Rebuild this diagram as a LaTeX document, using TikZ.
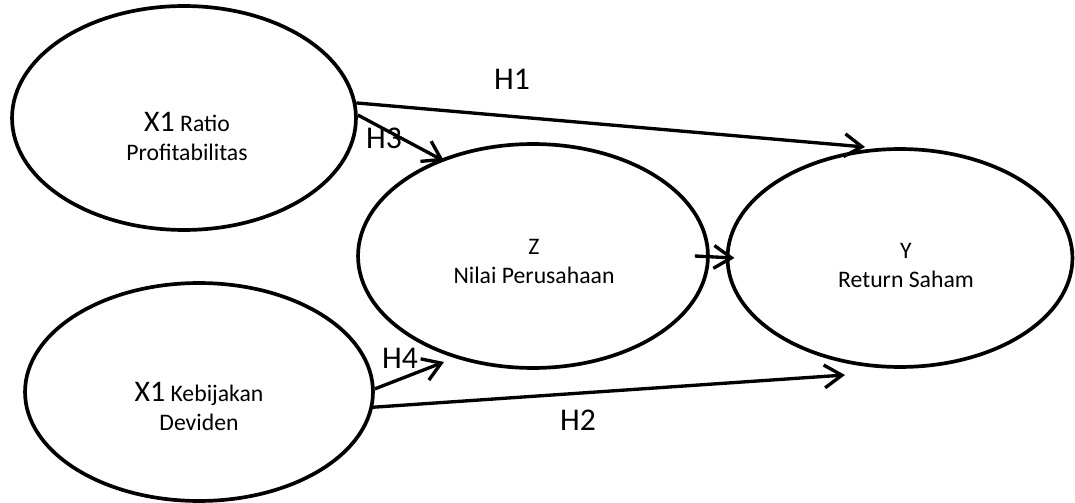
\documentclass[tikz,border=0pt]{standalone}
\usepackage{fontspec}
\setmainfont{Carlito}
\usetikzlibrary{arrows.meta}
\usepgflibrary{shapes.geometric}

\begin{document}
\begin{tikzpicture}[x=0.02cm, y=-0.02cm,
        var/.style={draw, ellipse, line width=2.1pt, inner sep=0pt},
        link/.style={line width=1.9pt, -{Straight Barb[length=10pt,width=13pt]}},
        txt/.style={align=center, font=\fontsize{13.5}{16.5}\selectfont},
        hyp/.style={inner sep=0pt, font=\fontsize{18}{21}\selectfont}]
        \useasboundingbox (0,0) rectangle (1075,503);

        \node[var, minimum width=6.88cm, minimum height=4.48cm] (x1) at (184,118) {};
        \node[var, minimum width=6.96cm, minimum height=4.36cm] (x2) at (199,392) {};
        \node[var, minimum width=7.00cm, minimum height=4.48cm] (z) at (533,256) {};
        \node[var, minimum width=6.90cm, minimum height=4.36cm] (y) at (900,258) {};

        \node[txt] (x1t) at (187,136) {{\fontsize{17}{19}\selectfont X1} Ratio\\Profitabilitas};
        \node[txt] (x2t) at (199,406) {{\fontsize{17}{19}\selectfont X1} Kebijakan\\Deviden};
        \node[txt] (zt) at (534,261) {Z\\Nilai Perusahaan};
        \node[txt] (yt) at (906,265) {Y\\Return Saham};

        \draw[link] (x1.5) -- ([shift={(-35,-111)}]y.center);
        \draw[link] (x1.1) -- ([shift={(-89,-95)}]z.center);
        \draw[link] (x2.1) -- ([shift={(-89,106)}]z.center);
        \draw[link] (x2.-5) -- ([shift={(-55,117)}]y.center);
        \draw[link] ([xshift=-8.5pt]z.east) -- ([xshift=5pt]y.west);

        \node[hyp] (h1) at (512,79) {H1};
        \node[hyp] (h3) at (384,138) {H3};
        \node[hyp] (h4) at (400,358) {H4};
        \node[hyp] (h2) at (578,420) {H2};

    \end{tikzpicture}
\end{document}
